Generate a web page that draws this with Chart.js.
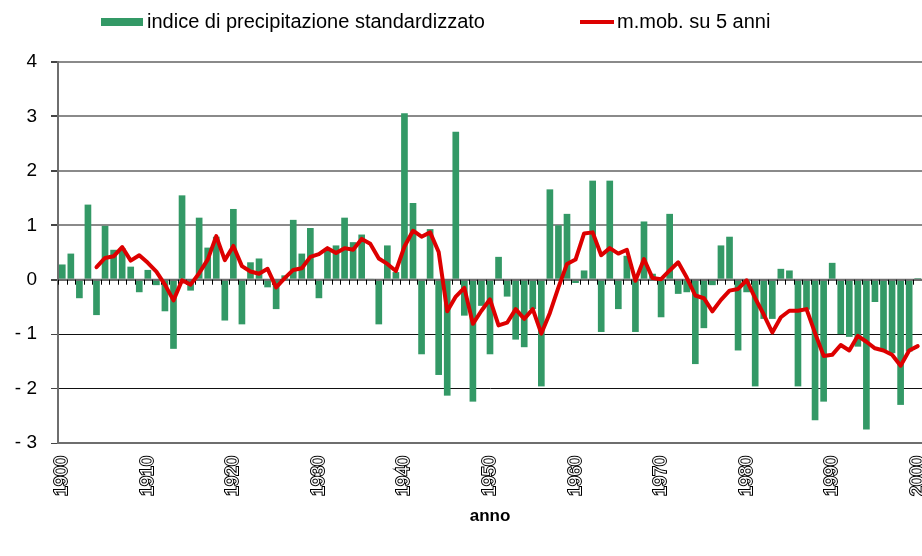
<!DOCTYPE html>
<html>
<head>
<meta charset="utf-8">
<script src="https://cdn.jsdelivr.net/npm/chart.js@4.4.1/dist/chart.umd.min.js"></script>
<style>
html,body{margin:0;padding:0;background:#fff;}
#wrap{width:922px;height:556px;}
</style>
</head>
<body>
<div id="wrap"><canvas id="c" width="922" height="556"></canvas></div>
<script>
const years = ['1900','1901','1902','1903','1904','1905','1906','1907','1908','1909',
  '1910','1911','1912','1913','1914','1915','1916','1917','1918','1919',
  '1920','1921','1922','1923','1924','1925','1926','1927','1928','1929',
  '1930','1931','1932','1933','1934','1935','1936','1937','1938','1939',
  '1940','1941','1942','1943','1944','1945','1946','1947','1948','1949',
  '1950','1951','1952','1953','1954','1955','1956','1957','1958','1959',
  '1960','1961','1962','1963','1964','1965','1966','1967','1968','1969',
  '1970','1971','1972','1973','1974','1975','1976','1977','1978','1979',
  '1980','1981','1982','1983','1984','1985','1986','1987','1988','1989',
  '1990','1991','1992','1993','1994','1995','1996','1997','1998','1999','2000'];

const spiValues = [0.28, 0.48, -0.34, 1.38, -0.65, 0.99, 0.55, 0.58, 0.24, -0.23,
  0.18, -0.10, -0.58, -1.27, 1.55, -0.20, 1.14, 0.59, 0.79, -0.75,
  1.30, -0.82, 0.32, 0.39, -0.14, -0.54, 0.08, 1.10, 0.48, 0.95,
  -0.34, 0.55, 0.63, 1.14, 0.69, 0.83, 0.02, -0.82, 0.63, 0.14,
  3.06, 1.41, -1.37, 0.93, -1.75, -2.13, 2.72, -0.66, -2.24, -0.48,
  -1.37, 0.42, -0.31, -1.10, -1.24, -0.54, -1.96, 1.66, 1.00, 1.21,
  -0.06, 0.17, 1.82, -0.96, 1.82, -0.54, 0.44, -0.96, 1.07, 0.11,
  -0.69, 1.21, -0.26, -0.23, -1.55, -0.89, -0.10, 0.63, 0.79, -1.30,
  -0.23, -1.96, -0.72, -0.72, 0.20, 0.17, -1.96, -0.55, -2.58, -2.24,
  0.31, -1.00, -1.05, -1.23, -2.75, -0.41, -1.30, -1.35, -2.30, -1.32, 0.03];

const movingAvg5 = [null, null, null, null, 0.23, 0.40, 0.43, 0.60, 0.35, 0.45,
  0.31, 0.15, -0.09, -0.38, -0.01, -0.09, 0.12, 0.37, 0.80, 0.36,
  0.62, 0.25, 0.15, 0.11, 0.20, -0.14, 0.03, 0.18, 0.21, 0.42,
  0.47, 0.58, 0.49, 0.58, 0.55, 0.75, 0.66, 0.39, 0.29, 0.16,
  0.61, 0.90, 0.79, 0.87, 0.51, -0.58, -0.31, -0.15, -0.81, -0.57,
  -0.36, -0.84, -0.79, -0.54, -0.72, -0.54, -0.99, -0.61, -0.14, 0.29,
  0.37, 0.85, 0.87, 0.45, 0.58, 0.48, 0.55, -0.02, 0.38, 0.03,
  0.01, 0.17, 0.32, 0.04, -0.29, -0.34, -0.58, -0.37, -0.20, -0.17,
  -0.01, -0.34, -0.64, -0.97, -0.69, -0.57, -0.57, -0.54, -0.98, -1.40,
  -1.38, -1.20, -1.30, -1.03, -1.14, -1.26, -1.30, -1.38, -1.58, -1.30, -1.22];

const xTickLabels = ['1900','1910','1920','1930','1940','1950','1960','1970','1980','1990','2000'];
const yTickValues = [4, 3, 2, 1, 0, -1, -2, -3];
const yTickLabels = ['4', '3', '2', '1', '0', '- 1', '- 2', '- 3'];
const seriesNames = ['indice di precipitazione standardizzato', 'm.mob. su 5 anni'];
const axisTitle = 'anno';

const FONT = "'Liberation Sans', Arial, sans-serif";
const GREEN = '#339966';
const RED = '#dd0000';

const zeroAxisPlugin = {
  id: 'zeroAxis',
  afterDatasetDraw(chart, args) {
    if (args.meta.type !== 'bar') return;
    const {ctx, chartArea} = chart;
    const xs = chart.scales.x, ys = chart.scales.y;
    const y0 = ys.getPixelForValue(0);
    ctx.save();
    ctx.strokeStyle = '#6e6e6e';
    ctx.lineWidth = 2;
    ctx.beginPath();
    ctx.moveTo(chartArea.left, y0);
    ctx.lineTo(chartArea.right, y0);
    ctx.stroke();
    ctx.strokeStyle = '#000';
    ctx.lineWidth = 1;
    ctx.beginPath();
    for (let i = 0; i <= years.length; i++) {
      const x = Math.round(xs.getPixelForValue(i - 0.5)) + 0.5;
      ctx.moveTo(x, y0);
      ctx.lineTo(x, y0 + 5);
    }
    ctx.stroke();
    ctx.restore();
  }
};

const legendPlugin = {
  id: 'excelLegend',
  afterDraw(chart) {
    const ctx = chart.ctx;
    const ds = chart.data.datasets;
    const bar = ds.find(d => d.type === 'bar');
    const line = ds.find(d => d.type === 'line');
    const y = 22;
    ctx.save();
    ctx.font = '20px ' + FONT;
    ctx.textBaseline = 'middle';
    ctx.textAlign = 'left';
    ctx.fillStyle = bar.backgroundColor;
    ctx.fillRect(101, y - 4, 42, 8);
    ctx.fillStyle = '#000';
    ctx.fillText(bar.label, 147, y);
    ctx.strokeStyle = line.borderColor;
    ctx.lineWidth = 4;
    ctx.beginPath();
    ctx.moveTo(580, y);
    ctx.lineTo(614, y);
    ctx.stroke();
    ctx.fillStyle = '#000';
    ctx.fillText(line.label, 617, y);
    ctx.restore();
  }
};

new Chart(document.getElementById('c'), {
  data: {
    labels: years,
    datasets: [
      {
        type: 'line',
        label: seriesNames[1],
        data: movingAvg5,
        borderColor: RED,
        backgroundColor: RED,
        borderWidth: 4,
        pointRadius: 0,
        tension: 0,
        borderJoinStyle: 'round',
        borderCapStyle: 'round',
        order: 0
      },
      {
        type: 'bar',
        label: seriesNames[0],
        data: spiValues,
        backgroundColor: GREEN,
        barPercentage: 0.78,
        categoryPercentage: 1,
        order: 1
      }
    ]
  },
  options: {
    responsive: false,
    animation: false,
    layout: { padding: { top: 62, left: 0, right: 0, bottom: 0 }, autoPadding: false },
    plugins: { legend: { display: false }, tooltip: { enabled: false } },
    scales: {
      x: {
        type: 'category',
        offset: true,
        grid: { display: false, drawTicks: false, offset: true },
        border: { display: true, color: '#6e6e6e', width: 2 },
        ticks: {
          autoSkip: false,
          minRotation: 90,
          maxRotation: 90,
          padding: 13,
          font: { family: FONT, size: 18 },
          color: '#ffffff',
          textStrokeColor: '#000000',
          textStrokeWidth: 2,
          callback: function (v, i) { const l = years[i]; return xTickLabels.includes(l) ? l : ''; }
        },
        title: {
          display: true,
          text: axisTitle,
          color: '#000',
          font: { family: FONT, size: 17, weight: 'bold' },
          padding: { top: 0, bottom: 29 }
        },
        afterFit: s => { s.height = 113; s.paddingLeft = 0; s.paddingRight = 0; }
      },
      y: {
        min: -3,
        max: 4,
        ticks: {
          stepSize: 1,
          padding: 14,
          color: '#000',
          font: { family: FONT, size: 19 },
          callback: v => { const k = yTickValues.indexOf(v); return k >= 0 ? yTickLabels[k] : ''; }
        },
        grid: {
          color: c => (c.tick && c.tick.value > 0) ? '#8a8a8a' : ((c.tick && c.tick.value === 0) ? '#6e6e6e' : '#111'),
          lineWidth: c => (c.tick && c.tick.value < 0) ? 1 : 2,
          tickColor: '#444',
          tickLength: 7
        },
        border: { display: true, color: '#6e6e6e', width: 2 },
        afterFit: s => { s.width = 58; s.paddingTop = 0; s.paddingBottom = 0; }
      }
    }
  },
  plugins: [zeroAxisPlugin, legendPlugin]
});
</script>
</body>
</html>
